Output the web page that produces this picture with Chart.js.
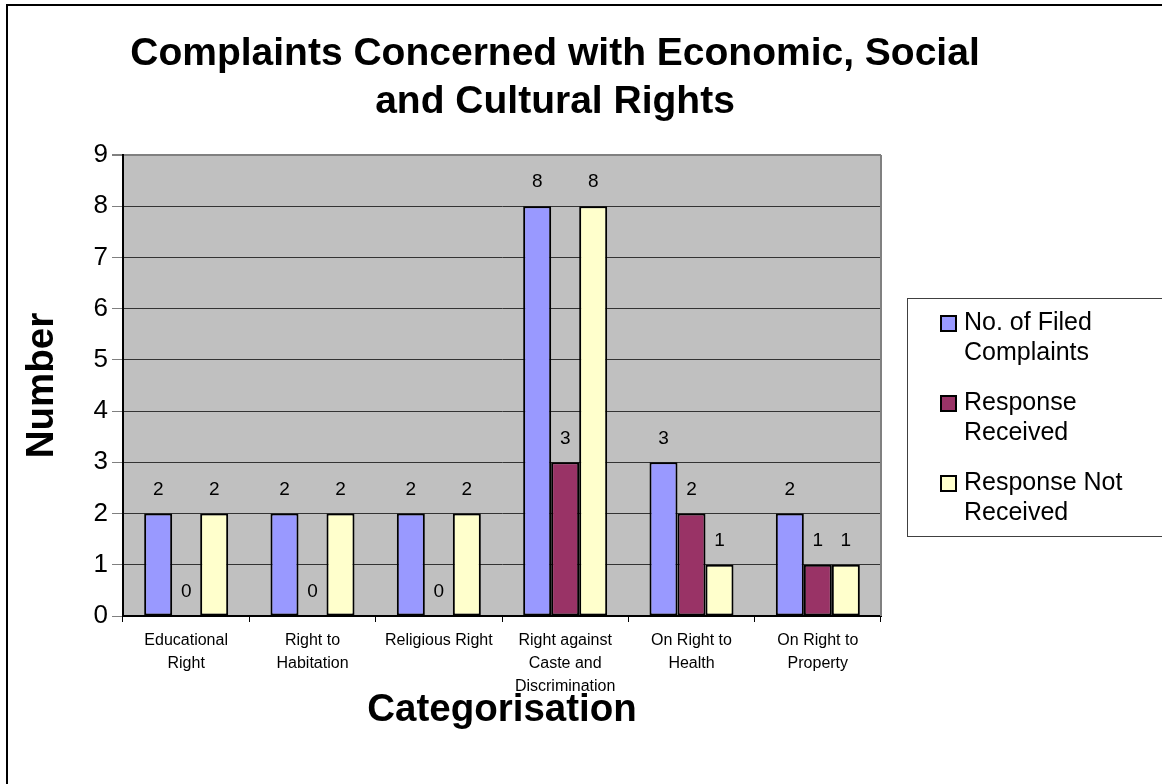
<!DOCTYPE html>
<html lang="en">
<head>
    <meta charset="UTF-8">
    <title>Complaints Concerned with Economic, Social and Cultural Rights</title>
    <script src="https://cdn.jsdelivr.net/npm/chart.js"></script>
    <style>
        html, body { margin: 0; padding: 0; background: #ffffff; }
        #grafico { display: block; }
    </style>
</head>
<body>
    <canvas id="grafico" width="1162" height="784"></canvas>

    <script>
        // Data
        const categorias = [
            ['Educational', 'Right'],
            ['Right to', 'Habitation'],
            ['Religious Right'],
            ['Right against', 'Caste and', 'Discrimination'],
            ['On Right to', 'Health'],
            ['On Right to', 'Property']
        ];
        const seriesNames = [
            ['No. of Filed', 'Complaints'],
            ['Response', 'Received'],
            ['Response Not', 'Received']
        ];
        const filed = [2, 2, 2, 8, 3, 2];
        const received = [0, 0, 0, 3, 2, 1];
        const notReceived = [2, 2, 2, 8, 1, 1];
        const seriesColors = ['#9999FF', '#993366', '#FFFFCC'];
        const yTicks = [0, 1, 2, 3, 4, 5, 6, 7, 8, 9];

        const FONT = 'Arial, sans-serif';

        // fondo, marco exterior y área de trazado gris
        const fondoPlugin = {
            id: 'fondo',
            beforeDraw(chart) {
                const { ctx, chartArea: a } = chart;
                ctx.save();
                ctx.fillStyle = '#ffffff';
                ctx.fillRect(0, 0, chart.width, chart.height);
                ctx.strokeStyle = '#000000';
                ctx.lineWidth = 2;
                ctx.strokeRect(7, 5, chart.width + 20, chart.height + 20);
                ctx.fillStyle = '#C0C0C0';
                ctx.fillRect(a.left, a.top, a.right - a.left, a.bottom - a.top);
                ctx.restore();
            },
            afterDraw(chart) {
                const { ctx, chartArea: a } = chart;
                ctx.save();
                ctx.strokeStyle = '#808080';
                ctx.lineWidth = 2;
                ctx.beginPath();
                ctx.moveTo(a.right, a.top);
                ctx.lineTo(a.right, a.bottom);
                ctx.stroke();
                ctx.restore();
            }
        };

        // etiquetas de valor sobre cada barra
        const etiquetasPlugin = {
            id: 'etiquetas',
            afterDatasetsDraw(chart) {
                const { ctx } = chart;
                ctx.save();
                ctx.font = '19px ' + FONT;
                ctx.fillStyle = '#000000';
                ctx.textAlign = 'center';
                ctx.textBaseline = 'middle';
                chart.data.datasets.forEach((ds, i) => {
                    chart.getDatasetMeta(i).data.forEach((bar, j) => {
                        ctx.fillText(String(ds.data[j]), bar.x, bar.y - 24);
                    });
                });
                ctx.restore();
            }
        };

        // leyenda con caja a la derecha
        const leyendaPlugin = {
            id: 'leyenda',
            afterDraw(chart) {
                const { ctx } = chart;
                ctx.save();
                ctx.strokeStyle = '#404040';
                ctx.lineWidth = 1;
                ctx.strokeRect(907.5, 298.5, 300, 238);
                ctx.font = '25px ' + FONT;
                ctx.textBaseline = 'middle';
                ctx.textAlign = 'left';
                chart.data.datasets.forEach((ds, i) => {
                    const y0 = 323 + i * 80;
                    ctx.fillStyle = ds.backgroundColor;
                    ctx.fillRect(941, y0 - 7, 15, 15);
                    ctx.strokeStyle = '#000000';
                    ctx.lineWidth = 2;
                    ctx.strokeRect(941, y0 - 7, 15, 15);
                    ctx.fillStyle = '#000000';
                    seriesNames[i].forEach((line, k) => {
                        ctx.fillText(line, 964, y0 + k * 30);
                    });
                });
                ctx.restore();
            }
        };

        const ctx = document.getElementById('grafico').getContext('2d');
        new Chart(ctx, {
            type: 'bar',
            data: {
                labels: categorias,
                datasets: [filed, received, notReceived].map((serie, i) => ({
                    label: seriesNames[i].join(' '),
                    data: serie,
                    backgroundColor: seriesColors[i],
                    borderColor: '#000000',
                    borderWidth: 2,
                    borderSkipped: false,
                    categoryPercentage: 0.665,
                    barPercentage: 1.0
                }))
            },
            options: {
                responsive: false,
                animation: false,
                layout: { padding: { left: 0, right: 52, top: 0, bottom: 0 } },
                plugins: {
                    legend: { display: false },
                    tooltip: { enabled: false },
                    title: {
                        display: true,
                        fullSize: true,
                        text: ['Complaints Concerned with Economic, Social', 'and Cultural Rights'],
                        color: '#000000',
                        font: { family: FONT, size: 39, weight: 'bold', lineHeight: 1.23 },
                        padding: { top: 30, bottom: 29 }
                    }
                },
                scales: {
                    x: {
                        offset: true,
                        grid: {
                            offset: true,
                            drawOnChartArea: false,
                            tickLength: 6,
                            color: '#000000'
                        },
                        border: { color: '#000000', width: 2 },
                        ticks: {
                            color: '#000000',
                            maxRotation: 0,
                            autoSkip: false,
                            padding: 7,
                            font: { family: FONT, size: 16, lineHeight: 1.45 }
                        },
                        title: {
                            display: true,
                            text: 'Categorisation',
                            color: '#000000',
                            font: { family: FONT, size: 38.5, weight: 'bold', lineHeight: 1.2 },
                            padding: { top: 0, bottom: 51 }
                        },
                        afterFit(scale) { scale.height = 168; }
                    },
                    y: {
                        min: 0,
                        max: 9,
                        afterBuildTicks(scale) { scale.ticks = yTicks.map(v => ({ value: v })); },
                        grid: {
                            color: (c) => c.tick && c.tick.value === 9 ? '#808080' : '#333333',
                            lineWidth: (c) => c.tick && c.tick.value === 9 ? 2 : 1,
                            tickColor: '#808080',
                            tickLength: 11
                        },
                        border: { color: '#000000', width: 2 },
                        ticks: {
                            color: '#000000',
                            padding: 4,
                            font: { family: FONT, size: 26 }
                        },
                        title: {
                            display: true,
                            text: 'Number',
                            color: '#000000',
                            font: { family: FONT, size: 38.5, weight: 'bold', lineHeight: 1.2 },
                            padding: { top: 19, bottom: 0 }
                        },
                        afterFit(scale) { scale.width = 123; }
                    },
                    // espacio reservado para la leyenda a la derecha
                    espacioLeyenda: {
                        type: 'linear',
                        position: 'right',
                        min: 0,
                        max: 1,
                        grid: { display: false },
                        ticks: { display: false },
                        border: { display: false },
                        afterFit(scale) { scale.width = 229; }
                    }
                }
            },
            plugins: [fondoPlugin, etiquetasPlugin, leyendaPlugin]
        });
    </script>
</body>
</html>
